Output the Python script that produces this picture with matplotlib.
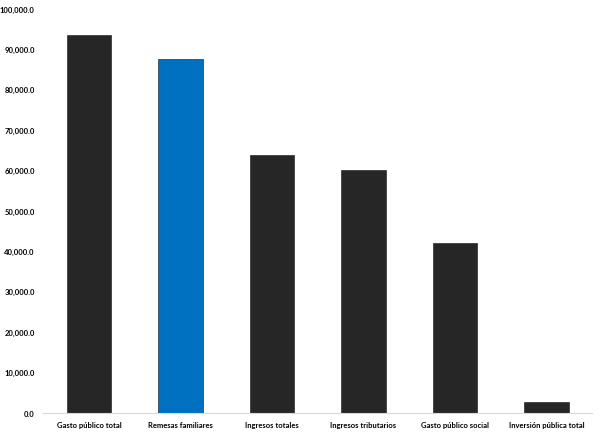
import matplotlib
matplotlib.use("Agg")
import matplotlib.pyplot as plt
from matplotlib.ticker import FuncFormatter, MultipleLocator

categories = ["Gasto público total", "Remesas familiares", "Ingresos totales",
              "Ingresos tributarios", "Gasto público social", "Inversión pública total"]
values = [93500, 87600, 63800, 60100, 41900, 2500]
colors = ["#262626", "#0070C0", "#262626", "#262626", "#262626", "#262626"]

plt.rcParams['font.family'] = ['Lato', 'DejaVu Sans']

fig = plt.figure(figsize=(6, 4.35), dpi=100)
ax = fig.add_axes([0.072, 0.0494, 0.915, 0.9287])
x = list(range(len(categories)))
ax.bar(x, values, width=0.49, color=colors, edgecolor="#111111", linewidth=0.4)
ax.set_xlim(-0.5, len(categories) - 0.5)
ax.set_ylim(0, 100000)
ax.yaxis.set_major_locator(MultipleLocator(10000))
ax.yaxis.set_major_formatter(FuncFormatter(lambda v, p: f"{v:,.1f}"))
ax.set_xticks(x)
ax.set_xticklabels(categories)
for s in ["top", "right", "left"]:
    ax.spines[s].set_visible(False)
ax.spines["bottom"].set_color("#d9d9d9")
ax.spines["bottom"].set_linewidth(0.8)
ax.tick_params(axis="both", length=0, labelsize=5.5, colors="#000000")
ax.tick_params(axis="y", pad=6)
ax.tick_params(axis="x", pad=6)
for lbl in ax.get_xticklabels() + ax.get_yticklabels():
    lbl.set_fontweight("bold")
fig.savefig("out.png", dpi=100, facecolor="white")
